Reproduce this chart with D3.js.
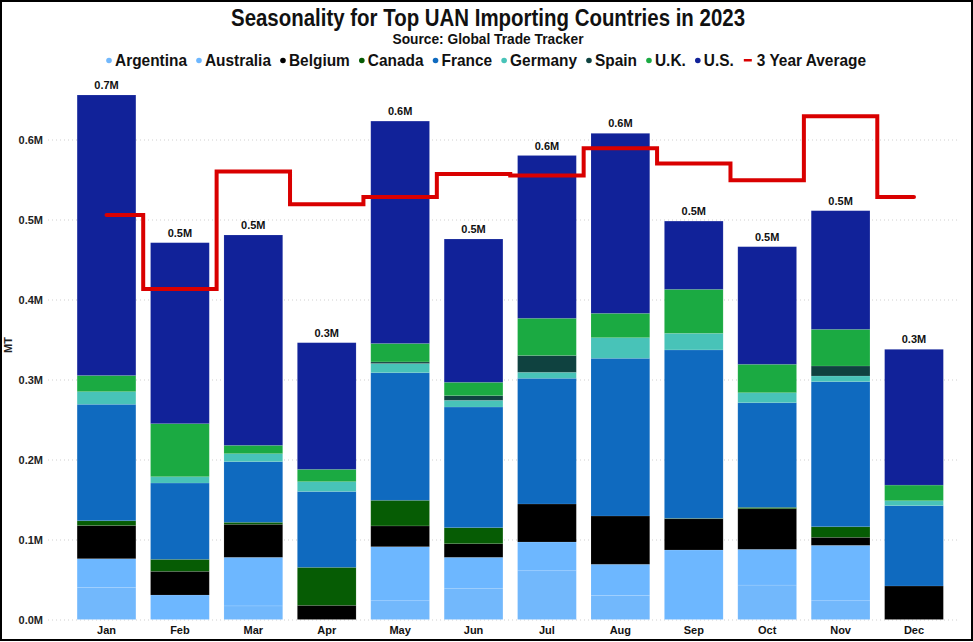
<!DOCTYPE html>
<html>
<head>
<meta charset="utf-8">
<script src="https://cdn.jsdelivr.net/npm/d3@7/dist/d3.min.js"></script>
<style>
  html, body { margin: 0; padding: 0; background: #fff; }
  svg { display: block; font-family: "Liberation Sans", Arial, sans-serif; }
</style>
</head>
<body>
<svg id="chart" width="973" height="642"></svg>
<script>
// ---- Data (MT) ----
const months = ["Jan","Feb","Mar","Apr","May","Jun","Jul","Aug","Sep","Oct","Nov","Dec"];
const seriesNames = ["Argentina","Australia","Belgium","Canada","France","Germany","Spain","U.K.","U.S."];
const argentina = [40000, 0, 17000, 0, 23500, 39000, 61000, 30000, 0, 43000, 23500, 0];
const australia = [36000, 30600, 60700, 0, 67500, 38700, 35900, 39000, 86900, 44700, 69200, 0];
const belgium   = [41500, 29600, 41300, 17700, 26000, 17100, 47500, 60400, 39100, 50800, 10000, 41900];
const canada    = [6000, 15000, 2500, 47500, 32000, 20000, 0, 0, 500, 1700, 13300, 0];
const france    = [145500, 95400, 75800, 94800, 159500, 150800, 157100, 197100, 210500, 130800, 181300, 100400];
const germany   = [15800, 7900, 10000, 12300, 11500, 8400, 7500, 25800, 20700, 12500, 7100, 6200];
const spain     = [0, 0, 0, 0, 2000, 5800, 21000, 0, 0, 0, 12500, 0];
const uk        = [20200, 66300, 10400, 15400, 23000, 16700, 46500, 30400, 55000, 35500, 45800, 19500];
const us        = [350600, 226200, 262900, 158300, 278000, 179100, 203500, 225000, 85300, 147000, 148300, 169700];
const threeYearAvg = [505600, 413000, 560000, 519000, 528000, 557000, 555000, 589000, 570000, 549000, 629000, 528000];
const yTicks = [0, 100000, 200000, 300000, 400000, 500000, 600000];
const seriesColors = ["#72b8fc","#6db7ff","#000000","#065c04","#0f6abf","#48c3b8","#0f4240","#1baa42","#112299"];
const avgColor = "#d90000";
const avgLabel = "3 Year Average";

// ---- Build table ----
const seriesArrays = [argentina, australia, belgium, canada, france, germany, spain, uk, us];
const table = months.map((m, i) => {
  const row = { month: m };
  seriesNames.forEach((s, j) => row[s] = seriesArrays[j][i]);
  return row;
});
const totals = months.map((m, i) => d3.sum(seriesArrays, a => a[i]));

const svg = d3.select("#chart");
const W = 973, H = 642;

// Border
svg.append("rect").attr("x", 1).attr("y", 1).attr("width", W - 2).attr("height", H - 3)
  .attr("fill", "#fff").attr("stroke", "#000").attr("stroke-width", 2);

// Scales
const x = d3.scaleBand().domain(months).range([69.8, 950.7]).paddingInner(0.2).paddingOuter(0.1);
const y = d3.scaleLinear().domain([0, 700000]).range([619.5, 59.5]);

// Grid + y axis
const gridLeft = 48, gridRight = 957;
const yAxis = svg.append("g").attr("transform", `translate(${gridLeft},0)`)
  .call(d3.axisLeft(y).tickValues(yTicks).tickSize(-(gridRight - gridLeft)).tickPadding(5)
    .tickFormat(d => (d / 1e6).toFixed(1) + "M"));
yAxis.select(".domain").remove();
yAxis.selectAll(".tick line").attr("stroke", "#cfcfcf").attr("stroke-dasharray", "1,3");
yAxis.selectAll(".tick text").attr("font-size", 11).attr("font-weight", "bold").attr("fill", "#222")
  .attr("font-family", "Liberation Sans, Arial, sans-serif");

// Y title
svg.append("text").attr("transform", "translate(12,345) rotate(-90)")
  .attr("text-anchor", "middle").attr("font-size", 11).attr("font-weight", "bold").attr("fill", "#222")
  .text("MT");

// Stacked bars
const stack = d3.stack().keys(seriesNames);
const stacked = stack(table);
const layers = svg.append("g").selectAll("g").data(stacked).join("g")
  .attr("fill", (d, i) => seriesColors[i]);
layers.selectAll("rect").data(d => d).join("rect")
  .attr("x", d => x(d.data.month))
  .attr("width", x.bandwidth())
  .attr("y", d => y(d[1]))
  .attr("height", d => Math.max(0, y(d[0]) - y(d[1])))
  .attr("stroke", "#ffffff").attr("stroke-opacity", 0.12).attr("stroke-width", 0.8);

// Total labels
svg.append("g").selectAll("text").data(months).join("text")
  .attr("x", m => x(m) + x.bandwidth() / 2)
  .attr("y", (m, i) => y(totals[i]) - 6)
  .attr("text-anchor", "middle").attr("font-size", 11).attr("font-weight", "bold").attr("fill", "#111")
  .text((m, i) => (totals[i] / 1e6).toFixed(1) + "M");

// 3-year average step line
const line = d3.line()
  .x((d, i) => x(months[i]) + x.bandwidth() / 2)
  .y(d => y(d))
  .curve(d3.curveStep);
svg.append("path").datum(threeYearAvg).attr("d", line)
  .attr("fill", "none").attr("stroke", avgColor).attr("stroke-width", 4)
  .attr("stroke-linejoin", "miter").attr("stroke-linecap", "round");

// X axis labels
const xAxis = svg.append("g").attr("transform", "translate(0,619.5)")
  .call(d3.axisBottom(x).tickSize(0).tickPadding(7));
xAxis.select(".domain").remove();
xAxis.selectAll(".tick text").attr("font-size", 11).attr("font-weight", "bold").attr("fill", "#111")
  .attr("font-family", "Liberation Sans, Arial, sans-serif");

// Title & subtitle
const title = svg.append("text").attr("x", 488).attr("y", 26).attr("text-anchor", "middle")
  .attr("font-size", 23).attr("font-weight", "bold").attr("fill", "#111")
  .text("Seasonality for Top UAN Importing Countries in 2023");
title.attr("textLength", 514).attr("lengthAdjust", "spacingAndGlyphs");
const sub = svg.append("text").attr("x", 488).attr("y", 44).attr("text-anchor", "middle")
  .attr("font-size", 14.5).attr("font-weight", "bold").attr("fill", "#111")
  .text("Source: Global Trade Tracker");
sub.attr("textLength", 191).attr("lengthAdjust", "spacingAndGlyphs");

// Legend
const legendItems = seriesNames.map((s, i) => ({ name: s, color: seriesColors[i], type: "dot" }))
  .concat([{ name: avgLabel, color: avgColor, type: "line" }]);
const lg = svg.append("g");
const legendY = 66, legendStart = 106, legendEnd = 866;
const texts = legendItems.map(it => lg.append("text").attr("y", legendY)
  .attr("font-size", 17).attr("font-weight", "bold").attr("fill", "#111").text(it.name));
const widths = texts.map(t => t.node().getComputedTextLength());
const markerW = legendItems.map(it => it.type === "dot" ? 9 : 14);
const gap = 9;
const fixed = d3.sum(markerW) + gap * (legendItems.length - 1);
const k = (legendEnd - legendStart - fixed) / d3.sum(widths);
let cx = legendStart;
legendItems.forEach((it, i) => {
  if (it.type === "dot") {
    lg.append("circle").attr("cx", cx + 3).attr("cy", legendY - 5.5).attr("r", 2.8).attr("fill", it.color);
  } else {
    lg.append("rect").attr("x", cx + 1).attr("y", legendY - 7).attr("width", 8).attr("height", 2.5).attr("fill", it.color);
  }
  const w = widths[i] * k;
  texts[i].attr("x", cx + markerW[i]).attr("textLength", w).attr("lengthAdjust", "spacingAndGlyphs");
  cx += markerW[i] + w + gap;
});
</script>
</body>
</html>
